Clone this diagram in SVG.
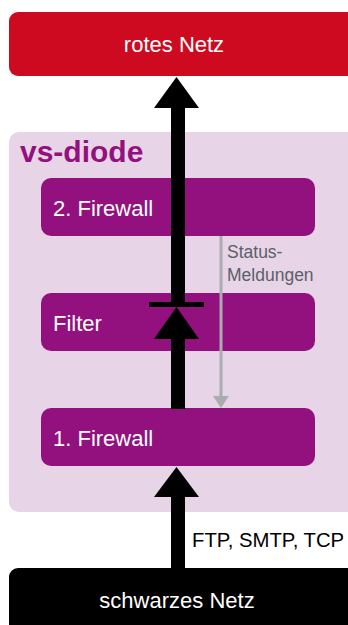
<svg xmlns="http://www.w3.org/2000/svg" width="348" height="625" viewBox="0 0 348 625">
<defs>
<style>
text{font-family:"Liberation Sans",Arial,sans-serif}
.box{fill:#93117e}
.wt{fill:#ffffff;font-size:22px}
.shaft{fill:#000}
</style>
</defs>
<rect width="348" height="625" fill="#ffffff"/>
<g id="vs-diode">
<rect x="9" y="132" width="350" height="380" rx="10" fill="#e7d4e7"/>
<text x="20" y="162" font-size="30" font-weight="bold" fill="#93117e">vs-diode</text>
</g>
<g id="rotes-netz">
<rect x="9" y="12" width="350" height="64" rx="9" fill="#cd0a20"/>
<text x="174" y="52" class="wt" text-anchor="middle">rotes Netz</text>
</g>
<g id="firewall2">
<rect class="box" x="41" y="178" width="274" height="58" rx="10"/>
<text x="53" y="216" class="wt">2. Firewall</text>
</g>
<g id="filter">
<rect class="box" x="41" y="293" width="274" height="58" rx="10"/>
<text x="53" y="331" class="wt">Filter</text>
</g>
<g id="firewall1">
<rect class="box" x="41" y="408" width="274" height="58" rx="10"/>
<text x="53" y="446" class="wt">1. Firewall</text>
</g>
<g id="schwarzes-netz">
<rect x="9" y="568" width="350" height="80" rx="9" fill="#000"/>
<text x="177" y="608" class="wt" text-anchor="middle">schwarzes Netz</text>
</g>
<g id="connectors">
<rect class="shaft" x="171" y="497" width="14" height="72"/>
<polygon class="shaft" points="154,497 199,497 176.5,467"/>
<rect class="shaft" x="171" y="339" width="14" height="70"/>
<polygon class="shaft" points="154,339 199,339 176.5,307"/>
<rect class="shaft" x="149" y="302" width="55" height="5"/>
<rect class="shaft" x="171" y="107" width="14" height="196"/>
<polygon class="shaft" points="154,108 199,108 176.5,77"/>
<line x1="221" y1="236" x2="221" y2="397" stroke="#a9adb0" stroke-width="3"/>
<polygon points="213,396 229,396 221,408" fill="#a9adb0"/>
<text x="227" y="258" font-size="17.5" fill="#5b6068">Status-</text>
<text x="227" y="281" font-size="17.5" fill="#5b6068">Meldungen</text>
<text x="192" y="547" font-size="20.3" fill="#000">FTP, SMTP, TCP</text>
</g>
</svg>
